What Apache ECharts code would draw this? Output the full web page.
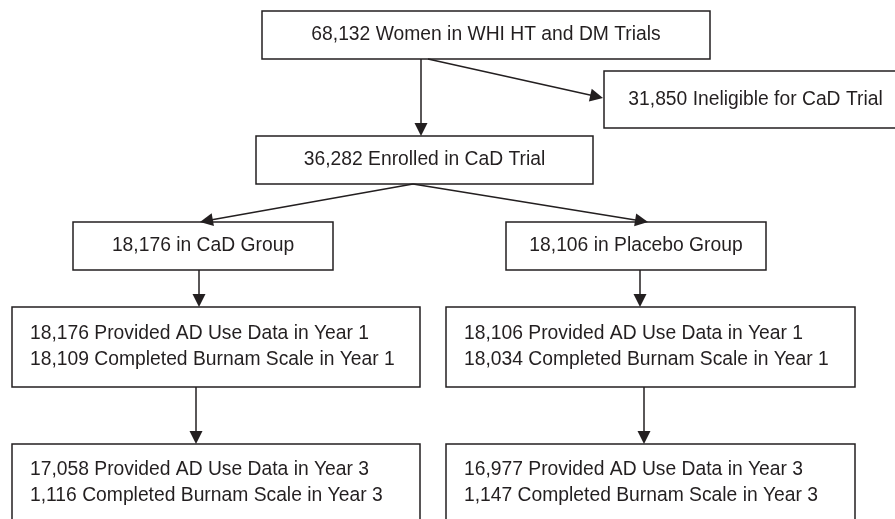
<!DOCTYPE html>
<html><head><meta charset="utf-8">
<script src="https://cdn.jsdelivr.net/npm/echarts@6/dist/echarts.min.js"></script>
<style>html,body{margin:0;padding:0;background:#fff}#c{width:895px;height:519px}</style>
</head><body><div id="c"></div>
<script>
// ---- content ----
const boxTexts = [
  "68,132 Women in WHI HT and DM Trials",
  "31,850 Ineligible for CaD Trial",
  "36,282 Enrolled in CaD Trial",
  "18,176 in CaD Group",
  "18,106 in Placebo Group",
  "18,176 Provided AD Use Data in Year 1\n18,109 Completed Burnam Scale in Year 1",
  "18,106 Provided AD Use Data in Year 1\n18,034 Completed Burnam Scale in Year 1",
  "17,058 Provided AD Use Data in Year 3\n1,116 Completed Burnam Scale in Year 3",
  "16,977 Provided AD Use Data in Year 3\n1,147 Completed Burnam Scale in Year 3"
];
const links = [[0,1],[0,2],[2,3],[2,4],[3,5],[4,6],[5,7],[6,8]];

// ---- layout (pixel space of the chart axes) ----
const boxRects = [
  [262,11,710,59],[604,71,907,128],[256,136,593,184],
  [73,222,333,270],[506,222,766,270],
  [12,307,420,387],[446,307,855,387],
  [12,444,420,521],[446,444,855,521]
];
const boxAlign = ['center','center','center','center','center','left','left','left','left'];
const linkPoints = [
  [[428,59],[603,98]],[[421,59],[421,136]],
  [[413,184],[200,222]],[[413,184],[648,222]],
  [[199,270],[199,307]],[[640,270],[640,307]],
  [[196,387],[196,444]],[[644,387],[644,444]]
];
const ARROW_LEN = 13;

const INK = '#231f20';
const boxData = boxTexts.map((t,i)=>[boxRects[i][0],boxRects[i][1],boxRects[i][2],boxRects[i][3],i]);
// pull the end point back by half the arrow length so the tip touches the box edge
const linkData = links.map((l,i)=>{
  const a = linkPoints[i][0], b = linkPoints[i][1];
  const dx = b[0]-a[0], dy = b[1]-a[1], d = Math.hypot(dx,dy);
  const k = (ARROW_LEN/2)/d;
  return {coords:[a,[b[0]-dx*k, b[1]-dy*k]]};
});

const chart = echarts.init(document.getElementById('c'), null, {renderer:'canvas'});
chart.setOption({
  animation:false,
  backgroundColor:'#fff',
  grid:{left:0,right:0,top:0,bottom:0},
  xAxis:{type:'value',min:0,max:895,show:false},
  yAxis:{type:'value',min:0,max:519,inverse:true,show:false},
  series:[
    {
      type:'custom',
      coordinateSystem:'cartesian2d',
      data: boxData,
      clip:false,
      z:2,
      renderItem:function(params, api){
        const p0 = api.coord([api.value(0), api.value(1)]);
        const p1 = api.coord([api.value(2), api.value(3)]);
        const i = api.value(4);
        const align = boxAlign[i];
        const w = p1[0]-p0[0], h = p1[1]-p0[1];
        let tx, ty;
        if (align==='center'){ tx = p0[0]+w/2; ty = p0[1]+h/2; }
        else { tx = p0[0]+18; ty = i>=7 ? p0[1]+38.5 : p0[1]+h/2-0.5; }
        return {
          type:'group',
          children:[
            {type:'rect', shape:{x:p0[0],y:p0[1],width:w,height:h},
             style:{fill:'#fff',stroke:INK,lineWidth:1.5}},
            {type:'text', x:tx, y:ty,
             style:{text:boxTexts[i], fill:INK, font:'19.3px "Liberation Sans", Arial, sans-serif',
                    align:align, verticalAlign:'middle', lineHeight:26}}
          ]
        };
      }
    },
    {
      type:'lines',
      coordinateSystem:'cartesian2d',
      data: linkData,
      symbol:['none','triangle'],
      symbolSize:[12,ARROW_LEN],
      lineStyle:{color:INK,width:1.5,opacity:1},
      itemStyle:{color:INK},
      z:5
    }
  ]
});
</script></body></html>
